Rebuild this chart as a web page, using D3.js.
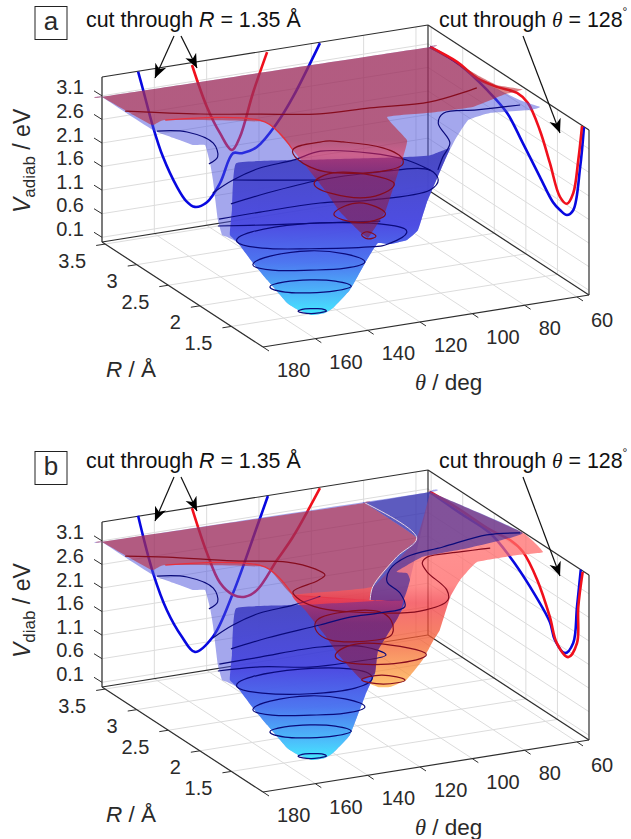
<!DOCTYPE html>
<html lang="en">
<head>
<meta charset="utf-8">
<title>Potential energy surfaces</title>
<script src="https://d3js.org/d3.v7.min.js"></script>
<style>
	html, body { margin: 0; padding: 0; background: #fff; }
	svg { display: block; }
	text { font-family: "Liberation Sans", Arial, sans-serif; fill: #2a2a2a; }
	.sym { font-family: "Liberation Serif", serif; font-style: italic; }
	.it { font-style: italic; }
</style>
</head>
<body>
<svg id="chart" width="631" height="839"></svg>
<script>
// tick labels
const thetaTicks = [180, 160, 140, 120, 100, 80, 60];
const rTicks = [3.5, 3, 2.5, 2, 1.5];
const vTicks = [3.1, 2.6, 2.1, 1.6, 1.1, 0.6, 0.1];

// cuts through R = 1.35 on the back wall: [theta, V]
const cutR_a_blue = [[166.2,3.49],[164.3,3.09],[160.5,2.27],[156.7,1.60],[151.3,0.91],[147.9,0.59],[144.5,0.43],[139.9,0.49],[134.9,0.85],[129.9,1.44],[126.5,1.41],[120.8,1.49],[113.1,1.93],[107,2.43],[96.7,3.48]];
const cutR_a_red = [[145.6,3.45],[139.9,2.51],[134.9,1.91],[130.3,1.51],[127.3,1.76],[122.3,2.65],[116.9,3.47]];
const cutR_b_blue = [[166.2,3.51],[160.5,2.25],[155.2,1.41],[149.4,0.79],[144.5,0.43],[137.6,0.69],[129.9,1.55],[120.8,2.87],[116.6,3.49]];
const cutR_b_red = [[145.6,3.49],[139.9,2.49],[134.9,1.81],[129.9,1.51],[125.3,1.43],[120.8,1.53],[113.1,2.10],[107,2.54],[96.7,3.48]];

// cuts through theta = 128 on the right wall: [R, V]
const cutT_a_red = [[3.52,3.06],[3.09,3.12],[2.77,3.05],[2.46,3.14],[2.14,3.29],[1.97,3.23],[1.78,2.82],[1.62,2.26],[1.46,1.68],[1.35,1.63],[1.25,1.94],[1.17,2.71],[1.11,3.49]];
const cutT_a_blue = [[3.52,3.06],[3.04,3.09],[2.62,2.94],[2.30,2.73],[2.05,2.31],[1.78,1.83],[1.57,1.47],[1.46,1.40],[1.35,1.39],[1.25,1.58],[1.14,2.59],[1.08,3.49]];
const cutT_b_red = [[3.52,3.06],[3.09,3.10],[2.57,3.09],[2.25,3.15],[2.05,3.08],[1.82,2.68],[1.62,2.07],[1.51,1.61],[1.33,1.47],[1.19,1.89],[1.17,2.67],[1.10,3.48]];
const cutT_b_blue = [[3.52,3.06],[3.04,3.03],[2.57,3.02],[2.25,2.79],[1.93,2.43],[1.62,1.96],[1.54,1.65],[1.38,1.51],[1.25,1.84],[1.19,2.66],[1.13,3.50]];

// surface outlines: [theta, R, V]
const leftEdge = [[152.1,1.38,0.1],[154,1.52,0.1],[165.2,1.23,0.6],[160.5,1.74,0.6],[167.9,1.66,1.1],[174.2,1.64,1.6],[174.8,1.79,1.6],[175.4,1.84,1.6],[180.6,1.69,2.1],[174.5,2.02,2.6],[167.4,2.36,2.6],[160.4,2.73,2.6],[164.1,2.77,2.6],[165.8,2.90,2.6],[169.3,3.18,2.6],[180.5,3.53,3.1],[180.5,3.53,3.1]];
const rightEdge_a = [[56.2,3.48,3.1],[56.2,3.48,3.1],[55.4,2.65,3.06],[55.4,2.09,3.18],[50.7,1.97,3.1],[55.2,1.94,3.1],[68.9,2.01,3.1],[78.9,1.94,3.1],[92.4,1.59,3.1],[104.9,1.23,3.1],[108.5,1.37,2.1],[112.8,1.33,1.6],[120.9,1.17,1.6],[128,1.14,1.6],[131.2,1.20,1.6],[125,1.54,1.1],[133.5,1.31,1.1],[139.8,1.29,0.6],[153.5,0.99,0.6],[147.2,1.38,0.1]];
const wellTop_a = [[159.4,2.28,2.6],[138.3,2.14,2.6],[104,1.87,2.6],[96,1.83,2.6],[86.6,1.91,2.6],[104.9,1.23,3.1],[108.5,1.37,2.1],[112.8,1.33,1.6],[120.9,1.17,1.6],[128,1.14,1.6],[131.2,1.20,1.6],[125,1.54,1.1],[133.5,1.31,1.1],[139.8,1.29,0.6],[153.5,0.99,0.6],[147.2,1.38,0.1]];
const wellLeft = [[152.1,1.38,0.1],[154,1.52,0.1],[165.2,1.23,0.6],[160.5,1.74,0.6],[167.9,1.66,1.1],[174.2,1.64,1.6],[172.9,1.82,1.6],[171.6,1.84,2.1]];
const redSurface_a = [[180.5,3.53,3.1],[180.5,3.53,3.1],[56.2,3.48,3.1],[56.2,3.48,3.1],[55.4,2.77,3.12],[55.4,2.46,3.18],[55.4,2.05,3.44],[56.4,2.32,3.1],[71.3,2.18,3.1],[87.3,2.20,3.1],[102.4,2.25,3.1],[107.1,1.74,3.1],[116.3,1.42,3.1],[113.2,1.82,1.6],[127.9,1.43,1.6],[131.9,1.33,1.6],[131.6,1.47,1.6],[128.3,1.92,1.6],[133.7,1.94,2.1],[139.1,2.03,2.6],[135.8,2.36,2.6],[142.2,2.53,3.1],[172,2.88,3.1],[178.4,2.83,3.1]];
const redRim = [[172,2.88,3.1],[142.2,2.53,3.1],[135.8,2.36,2.6]];

const lightBlue_b = [[56.2,3.48,3.1],[56.2,3.48,3.1],[103.8,1.83,3.1],[115.4,1.46,3.1],[113.9,1.60,2.6],[124.4,1.48,2.1],[125.1,1.50,1.6],[127.4,1.56,1.1],[139.8,1.29,0.6],[153.5,0.99,0.6],[147.2,1.38,0.1]];
const wellRight_b = [[159.4,2.28,2.6],[138.3,2.14,2.6],[115.4,1.46,3.1],[113.9,1.60,2.6],[124.4,1.48,2.1],[125.1,1.50,1.6],[127.4,1.56,1.1],[139.8,1.29,0.6],[153.5,0.99,0.6],[147.2,1.38,0.1]];
const redLeft_b = [[180.5,3.53,3.1],[180.5,3.53,3.1],[81.4,3.47,3.1],[81.4,3.47,3.1],[81.9,2.63,3.1],[97,2.32,3.1],[118.5,1.81,3.1],[125.5,1.56,3.1],[135.8,2.36,2.6],[142.2,2.53,3.1],[172,2.88,3.1],[178.4,2.83,3.1]];
const redRight_b = [[56.2,3.48,3.1],[56.2,3.48,3.1],[55.4,2.05,3.48],[49.8,1.96,3.1],[59.2,1.98,3.1],[74.8,1.97,3.1],[88.5,1.67,3.1],[99.5,1.37,3.1],[96,1.68,2.1],[102.8,1.50,2.1],[104.2,1.61,1.6],[107.5,1.73,1.1],[116,1.64,1.1],[119.7,1.68,1.1],[121.3,1.87,1.1],[128.3,1.92,1.6],[133.7,1.94,2.1],[139.1,2.03,2.6],[135.8,2.36,2.6],[118.5,1.81,3.1],[81.9,2.63,3.1]];
const overlap_b = [[135.8,2.36,2.6],[125.5,1.56,3.1],[115.4,1.46,3.1],[113.9,1.60,2.6],[124.4,1.48,2.1],[125.1,1.50,1.6],[121.3,1.87,1.1],[128.3,1.92,1.6],[133.7,1.94,2.1],[139.1,2.03,2.6]];
const purple_b = [[81.4,3.47,3.1],[81.4,3.47,3.1],[56.2,3.48,3.1],[56.2,3.48,3.1],[55.4,2.05,3.48],[70.3,2.27,3.1],[89,2.24,3.1],[104.1,2.03,3.1],[101.5,1.97,3.1],[103.8,1.83,3.1],[115.4,1.46,3.1],[125.5,1.56,3.1],[118.5,1.81,3.1],[97,2.32,3.1],[81.9,2.63,3.1]];
const paleEdge_b = [[81.4,3.47,3.1],[81.9,2.63,3.1],[97,2.32,3.1],[118.5,1.81,3.1],[125.5,1.56,3.1]];

// blue contours, closed: [theta, R, V]
const ring01 = [[154.5,1.50,0.1],[151.4,1.52,0.1],[148.7,1.50,0.1],[146.2,1.47,0.1],[145.9,1.41,0.1],[149,1.40,0.1],[151.7,1.41,0.1],[153.9,1.45,0.1]];
const ring06 = [[162.9,1.60,0.6],[156,1.65,0.6],[147.3,1.61,0.6],[140.1,1.51,0.6],[137.6,1.36,0.6],[144.8,1.32,0.6],[153.5,1.36,0.6],[160.7,1.45,0.6]];
const ring11 = [[168.9,1.62,1.1],[159.4,1.74,1.1],[144.8,1.72,1.1],[135.4,1.55,1.1],[133.1,1.33,1.1],[142,1.27,1.1],[153.7,1.34,1.1],[165.4,1.46,1.1]];
const ring16_a = [[174,1.66,1.6],[164.7,1.81,1.6],[146.2,1.81,1.6],[127.3,1.65,1.6],[118,1.48,1.6],[117.6,1.31,1.6],[127.5,1.16,1.6],[135.6,1.15,1.6],[154.9,1.30,1.6],[169.2,1.46,1.6]];
const ring16_b = [[174,1.66,1.6],[164.7,1.81,1.6],[146.2,1.81,1.6],[130.9,1.66,1.6],[127.9,1.43,1.6],[138.3,1.27,1.6],[154.9,1.30,1.6],[169.2,1.46,1.6]];

// blue contours, open
const line21_a = [[179.9,1.70,2.1],[164,1.71,2.1],[141.3,1.70,2.1],[124.5,1.60,2.1],[101.4,1.61,2.1],[94.2,1.78,2.1],[92,2.00,2.1],[111.8,2.13,2.1],[130.5,2.15,2.1],[152.9,2.06,2.1],[169.1,1.96,2.1]];
const line21_flat = [[157.2,2.42,2.1],[142.8,2.27,2.1],[130.5,2.15,2.1]];
const line16_flat = [[172.4,2.03,1.6],[155.9,1.89,1.6],[139.6,1.77,1.6],[120.2,1.62,1.6]];
const line26_a = [[180.6,1.77,2.6],[168.3,1.96,2.6],[154.4,2.11,2.6],[140.5,2.16,2.6],[127.9,2.25,2.6],[113.5,2.06,2.6],[105.5,1.81,2.6],[103.1,1.54,2.6]];
const line26_b = [[180.6,1.77,2.6],[168.3,1.96,2.6],[154.4,2.11,2.6],[140.5,2.16,2.6],[127.9,2.25,2.6]];
const shelfLeft = [[168.6,3.15,2.6],[159.8,3.04,2.6],[157,2.74,2.6],[162.1,2.46,2.6],[168.1,2.35,2.6]];
const shelfRight_a = [[55.9,2.07,3.1],[71.5,2.11,3.1],[83.3,2.15,3.1],[89.6,1.97,3.1],[95.3,1.55,3.1],[104,1.30,3.1],[111.7,1.06,3.1]];
const line16_b = [[168.7,2.16,1.6],[152.9,2.17,1.6],[129.7,2.18,1.6],[115.9,2.04,1.6],[113.2,1.82,1.6],[129.6,1.79,1.6],[142.2,1.82,1.6],[157.6,1.98,1.6],[172.4,2.03,1.6]];
const upperBlue_b = [[55.4,2.09,3.44],[59,2.47,3.1],[78.2,2.37,3.1],[93.9,2.29,3.1],[105.3,2.09,3.1],[111.8,1.86,3.1],[113,1.61,3.1],[118.1,1.32,3.1],[128.6,1.28,3.1],[139.7,1.29,3.1],[130.5,2.15,2.1],[152.9,2.06,2.1],[169.1,1.96,2.1]];

// red contours
const redLine_a = [[180.1,3.18,3.1],[158.4,2.89,3.1],[140,2.70,3.1],[121.6,2.52,3.1],[103.4,2.48,3.1],[82.1,2.41,3.1],[61.1,2.54,3.1]];
const redRing26_a = [[135.8,2.36,2.6],[123.7,2.43,2.6],[116.6,2.36,2.6],[107.2,2.12,2.6],[106.7,1.82,2.6],[115.4,1.67,2.6],[131.2,1.75,2.6],[138.5,1.97,2.6]];
const redRing21_a = [[133,2.13,2.1],[119.6,2.23,2.1],[109,1.88,2.1],[123.1,1.66,2.1],[133.5,1.86,2.1]];
const redRing16_a = [[129.8,1.94,1.6],[117.9,2.04,1.6],[114.9,1.76,1.6],[124.7,1.64,1.6],[131.1,1.76,1.6]];
const redRing11_a = [[121.3,1.87,1.1],[118,1.91,1.1],[117.5,1.80,1.1],[121.3,1.77,1.1]];
const redLine_b = [[180.1,3.18,3.1],[167.6,3.03,3.1],[149.2,2.75,3.1],[133.1,2.56,3.1],[127.8,2.34,3.1],[127.6,2.19,3.1],[132.6,2.10,3.1],[145.4,1.96,3.1],[147,1.78,3.1],[144.7,1.56,3.1],[136.4,1.38,3.1],[115.4,1.19,3.1],[101.6,1.32,3.1],[97.2,1.52,3.1],[94.8,1.93,3.1],[92.1,2.12,3.1],[87.8,2.22,3.1],[75.3,2.22,3.1],[64.2,2.20,3.1]];
const redRing26_b = [[142.2,1.74,2.6],[130.7,1.87,2.6],[117,1.76,2.6],[121.5,1.36,2.6],[131.2,1.22,2.6],[145.6,1.37,2.6]];
const redRing21_b = [[138.7,1.55,2.1],[124.5,1.65,2.1],[111.4,1.28,2.1],[123.8,1.16,2.1],[139.2,1.31,2.1]];
const redRing16_b = [[132.4,1.41,1.6],[123.9,1.44,1.6],[119.2,1.27,1.6],[127.8,1.26,1.6]];

// box limits
const thetaLim = [180, 55.4];
const rLim = [1, 3.55];
const vLim = [0, 3.5];

// scales, one per screen direction of each 3d axis
const thetaX = d3.scaleLinear().domain(thetaLim).range([0, 326]);
const thetaY = d3.scaleLinear().domain(thetaLim).range([0, -52]);
const rX = d3.scaleLinear().domain(rLim).range([0, -161]);
const rY = d3.scaleLinear().domain(rLim).range([0, -105]);
const vY = d3.scaleLinear().domain(vLim).range([0, -165]);

function project(p) {
	return [263 + thetaX(p[0]) + rX(p[1]), 347 + thetaY(p[0]) + rY(p[1]) + vY(p[2])];
}

const COL = { grid: "#dcdcdc", box: "#2e2e2e", navy: "#0a0a7a", maroon: "#860c1e", blue: "#0808e0", red: "#f0101c" };

const svg = d3.select("#chart");
const defs = svg.append("defs");

function gradient(id, stops) {
	const g = defs.append("linearGradient").attr("id", id)
		.attr("gradientUnits", "userSpaceOnUse")
		.attr("x1", 0).attr("x2", 0).attr("y1", 100).attr("y2", 320);
	stops.forEach(s => g.append("stop").attr("offset", (s[0] - 100) / 220).attr("stop-color", s[1]));
}
gradient("well", [[160, "#4646c4"], [225, "#4a4ae2"], [262, "#4a74f0"], [298, "#48c4fc"], [315, "#40ecff"]]);
gradient("redA", [[100, "#be1e28"], [140, "#be1e28"], [155, "#ee2840"], [178, "#a01838"], [240, "#8a1830"]]);
gradient("redB", [[100, "#ff6c6c"], [140, "#ff6464"], [158, "#f23a44"], [200, "#f4602e"], [242, "#ffb040"]]);

defs.append("marker").attr("id", "head")
	.attr("viewBox", "-14 -7 15 14").attr("refX", 0).attr("refY", 0)
	.attr("markerUnits", "userSpaceOnUse").attr("markerWidth", 15).attr("markerHeight", 14)
	.attr("orient", "auto")
	.append("path").attr("d", "M0,0 L-14,-6 L-10,0 L-14,6 Z").attr("fill", "#000");

const lineArea = d3.line().curve(d3.curveCardinalClosed.tension(0.7));
const lineRing = d3.line().curve(d3.curveCardinalClosed.tension(-0.2));
const lineOpen = d3.line().curve(d3.curveCatmullRom.alpha(0.5));

function area(g, pts, fill, op) {
	g.append("path").attr("d", lineArea(pts.map(project))).attr("fill", fill).attr("fill-opacity", op);
}
function curve(g, pts, color, w, closed) {
	g.append("path").attr("d", (closed ? lineRing : lineOpen)(pts.map(project))).attr("fill", "none")
		.attr("stroke", color).attr("stroke-width", w).attr("stroke-linejoin", "round");
}
function seg(g, a, b, color, w) {
	const p = project(a), q = project(b);
	g.append("line").attr("x1", p[0]).attr("y1", p[1]).attr("x2", q[0]).attr("y2", q[1])
		.attr("stroke", color).attr("stroke-width", w);
}

function drawGrid(g) {
	const tMin = thetaLim[1], tMax = thetaLim[0], rMax = rLim[1], rMin = rLim[0];
	thetaTicks.forEach(t => {
		seg(g, [t, rMin, 0], [t, rMax, 0], COL.grid, 1);
		seg(g, [t, rMax, 0], [t, rMax, vLim[1]], COL.grid, 1);
	});
	rTicks.forEach(r => {
		seg(g, [tMax, r, 0], [tMin, r, 0], COL.grid, 1);
		seg(g, [tMin, r, 0], [tMin, r, vLim[1]], COL.grid, 1);
	});
	vTicks.forEach(v => {
		seg(g, [tMax, rMax, v], [tMin, rMax, v], COL.grid, 1);
		seg(g, [tMin, rMax, v], [tMin, rMin, v], COL.grid, 1);
	});
}

function drawBox(g) {
	const t0 = thetaLim[0], t1 = thetaLim[1], r0 = rLim[0], r1 = rLim[1], v1 = vLim[1];
	seg(g, [t0, r1, 0], [t1, r1, 0], COL.box, 1.2);
	seg(g, [t1, r1, 0], [t1, r0, 0], COL.box, 1.2);
	seg(g, [t0, r1, v1], [t1, r1, v1], COL.box, 1.2);
	seg(g, [t1, r1, v1], [t1, r0, v1], COL.box, 1.2);
	seg(g, [t0, r1, 0], [t0, r1, v1], COL.box, 1.2);
	seg(g, [t1, r0, 0], [t1, r0, v1], COL.box, 1.2);
	seg(g, [t1, r1, 0], [t1, r1, v1], COL.box, 1.2);
}

function drawAxes(g, subLabel) {
	const t0 = thetaLim[0], t1 = thetaLim[1], r0 = rLim[0], r1 = rLim[1];
	seg(g, [t0, r0, 0], [t1, r0, 0], COL.box, 1.2);
	seg(g, [t0, r1, 0], [t0, r0, 0], COL.box, 1.2);

	thetaTicks.forEach(t => {
		const p = project([t, r0, 0]);
		g.append("line").attr("x1", p[0]).attr("y1", p[1]).attr("x2", p[0] + 6).attr("y2", p[1] + 4)
			.attr("stroke", COL.box);
		g.append("text").attr("x", p[0] + 14).attr("y", p[1] + 30).attr("font-size", 20).text(t);
	});
	rTicks.forEach(r => {
		const p = project([t0, r, 0]);
		g.append("line").attr("x1", p[0]).attr("y1", p[1]).attr("x2", p[0] - 9).attr("y2", p[1] + 1.4)
			.attr("stroke", COL.box);
		g.append("text").attr("x", p[0] - 19).attr("y", p[1] + 23.5).attr("font-size", 20)
			.attr("text-anchor", "end").text(r);
	});
	vTicks.forEach(v => {
		const p = project([t0, r1, v]);
		g.append("line").attr("x1", p[0]).attr("y1", p[1]).attr("x2", p[0] - 8).attr("y2", p[1] - 5)
			.attr("stroke", COL.box);
		g.append("text").attr("x", 84).attr("y", p[1] - 1.5).attr("font-size", 20)
			.attr("text-anchor", "end").text(v.toFixed(1));
	});

	const vt = g.append("text").attr("transform", "translate(30,213) rotate(-90)").attr("font-size", 23);
	vt.append("tspan").attr("class", "it").text("V");
	vt.append("tspan").attr("font-size", 17).attr("dy", 5).text(subLabel);
	vt.append("tspan").attr("dy", -5).text(" / eV");

	const rt = g.append("text").attr("x", 106).attr("y", 377).attr("font-size", 22.5);
	rt.append("tspan").attr("class", "it").text("R");
	rt.append("tspan").text(" / Å");

	const tt = g.append("text").attr("x", 415).attr("y", 390).attr("font-size", 22.5);
	tt.append("tspan").attr("class", "sym").text("θ");
	tt.append("tspan").text(" / deg");
}

function drawHeader(g, name, textY, startDy, tipDy) {
	g.append("rect").attr("x", 35).attr("y", 6.5).attr("width", 32).attr("height", 33)
		.attr("fill", "#fff").attr("stroke", "#222").attr("stroke-width", 1);
	g.append("text").attr("x", 51).attr("y", 30).attr("text-anchor", "middle").attr("font-size", 26).text(name);

	const t1 = g.append("text").attr("x", 86).attr("y", textY).attr("font-size", 21.4).style("fill", "#111");
	t1.append("tspan").text("cut through ");
	t1.append("tspan").attr("class", "it").text("R");
	t1.append("tspan").text(" = 1.35 Å");

	const t2 = g.append("text").attr("x", 439).attr("y", textY).attr("font-size", 21.4).style("fill", "#111");
	t2.append("tspan").text("cut through ");
	t2.append("tspan").attr("class", "sym").text("θ");
	t2.append("tspan").text(" = 128");
	t2.append("tspan").attr("font-size", 12).attr("dy", -11).text("°");

	[[174, 155, 36, 78], [181, 197, 36, 68], [523, 560, 36, 133]].forEach(a => {
		g.append("line").attr("x1", a[0]).attr("y1", a[2] + startDy).attr("x2", a[1]).attr("y2", a[3] + tipDy)
			.attr("stroke", "#111").attr("stroke-width", 1.2).attr("marker-end", "url(#head)");
	});
}

function drawCuts(g, rBlue, rRed, tBlue, tRed) {
	const R = rLim[1], T = thetaLim[1];
	curve(g, rBlue.map(d => [d[0], R, d[1]]), COL.blue, 2.6);
	curve(g, rRed.map(d => [d[0], R, d[1]]), COL.red, 2.6);
	curve(g, tBlue.map(d => [T, d[0], d[1]]), COL.blue, 2.6);
	curve(g, tRed.map(d => [T, d[0], d[1]]), COL.red, 2.6);
}

// panel a
const pa = svg.append("g");
drawGrid(pa);
drawBox(pa);
drawCuts(pa, cutR_a_blue, cutR_a_red, cutT_a_blue, cutT_a_red);
area(pa, leftEdge.concat(rightEdge_a), "#4a50dc", 0.5);
area(pa, wellTop_a.concat(wellLeft), "url(#well)", 0.96);
[ring01, ring06, ring11, ring16_a].forEach(r => curve(pa, r, COL.navy, 1.2, true));
[line21_a, line21_flat, line16_flat, line26_a, shelfLeft, shelfRight_a].forEach(l => curve(pa, l, COL.navy, 1.2));
area(pa, redSurface_a, "url(#redA)", 0.55);
curve(pa, redRim, "#e8303c", 1.2);
curve(pa, redLine_a, COL.maroon, 1.2);
[redRing26_a, redRing21_a, redRing16_a, redRing11_a].forEach(r => curve(pa, r, COL.maroon, 1.2, true));
drawAxes(pa, "adiab");
drawHeader(pa, "a", 27, 0, 0);

// panel b, same frame 445 px lower
const pb = svg.append("g").attr("transform", "translate(0,445)");
drawGrid(pb);
drawBox(pb);
drawCuts(pb, cutR_b_blue, cutR_b_red, cutT_b_blue, cutT_b_red);
area(pb, leftEdge.concat(lightBlue_b), "#4a50dc", 0.5);
area(pb, redLeft_b, "#be1e28", 0.55);
area(pb, redRight_b, "url(#redB)", 0.75);
area(pb, wellRight_b.concat(wellLeft), "url(#well)", 0.96);
[ring01, ring06, ring11, ring16_b].forEach(r => curve(pb, r, COL.navy, 1.2, true));
[line16_b, line26_b, shelfLeft].forEach(l => curve(pb, l, COL.navy, 1.2));
area(pb, overlap_b, "url(#redA)", 0.55);
curve(pb, redRim, "#e8303c", 1.2);
[redRing26_b, redRing21_b, redRing16_b].forEach(r => curve(pb, r, COL.maroon, 1.2, true));
area(pb, purple_b, "#2e28a0", 0.6);
curve(pb, paleEdge_b, "#e6d4e4", 1);
curve(pb, redLine_b, COL.maroon, 1.2);
curve(pb, upperBlue_b, COL.navy, 1.2);
drawAxes(pb, "diab");
drawHeader(pb, "b", 23, -4, -2);
</script>
</body>
</html>
